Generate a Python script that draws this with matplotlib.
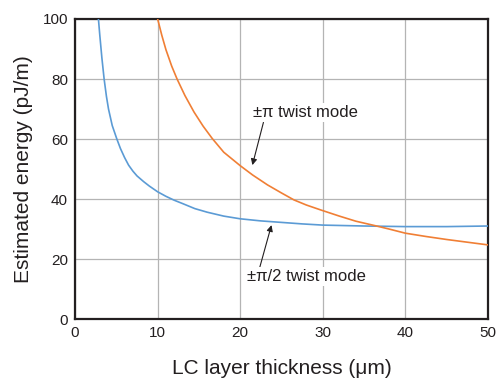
import matplotlib
matplotlib.use("Agg")
import matplotlib.pyplot as plt

# Data
pi2_thickness = [2.83, 3.0, 3.25, 3.52, 3.8, 4.05, 4.5, 5.06, 5.5, 6.0, 6.48, 7.0, 7.5, 8.3, 9.0,
                 10.0, 11.0, 12.0, 13.0, 14.5, 16.0, 18.0, 20.0, 22.5, 25.0, 27.5, 30.0, 35.0,
                 40.0, 45.0, 50.0]
pi2_energy = [100, 94.5, 87, 80, 74.2, 70, 64.5, 60, 56.8, 53.8, 51.3, 49.3, 47.7, 45.8, 44.3,
              42.4, 40.9, 39.6, 38.5, 36.8, 35.6, 34.3, 33.4, 32.7, 32.2, 31.7, 31.3, 31.0,
              30.8, 30.8, 31.0]

pi_thickness = [10.0, 10.5, 11.0, 11.7, 12.35, 13.3, 14.4, 15.5, 16.6, 18.0, 20.0, 21.5, 23.3,
                25.0, 26.5, 28.0, 29.8, 32.0, 34.0, 36.5, 38.0, 40.0, 42.5, 45.0, 47.5, 50.0]
pi_energy = [100, 94.6, 89.8, 84.3, 80, 74.5, 69, 64.3, 60.2, 55.6, 51.1, 48, 44.7,
             42, 39.7, 38, 36.3, 34.3, 32.6, 31, 30, 28.6, 27.5, 26.5, 25.6, 24.7]

xticks = [0, 10, 20, 30, 40, 50]
yticks = [0, 20, 40, 60, 80, 100]

plt.rcParams['font.family'] = ['Liberation Sans', 'DejaVu Sans']
dark = '#231f20'

fig = plt.figure(figsize=(4.97, 3.80), dpi=100)
ax = fig.add_axes([0.151, 0.1605, 0.831, 0.7895])

ax.plot(pi2_thickness, pi2_energy, color='#5b9bd5', lw=1.2, zorder=3)
ax.plot(pi_thickness, pi_energy, color='#f07f35', lw=1.2, zorder=3)

ax.set_xlim(0, 50)
ax.set_ylim(0, 100)
ax.set_xticks(xticks)
ax.set_yticks(yticks)
ax.tick_params(length=0, pad=5, labelsize=11, colors=dark)
ax.grid(True, color='#b4b4b4', lw=0.9)
ax.set_axisbelow(True)
for s in ax.spines.values():
    s.set_color(dark)
    s.set_linewidth(1.6)

ax.set_xlabel('LC layer thickness (μm)', fontsize=15, color=dark, labelpad=14)
ax.set_ylabel('Estimated energy (pJ/m)', fontsize=15, color=dark, labelpad=7)

box = dict(facecolor='white', edgecolor='none', pad=1.5)
ax.annotate('±π twist mode', xy=(21.47, 51.3), xytext=(21.6, 68.7),
            fontsize=12, color=dark, ha='left', va='center', bbox=box,
            arrowprops=dict(arrowstyle='-|>', color=dark, lw=0.8,
                            mutation_scale=9, shrinkA=0, shrinkB=0,
                            relpos=(0.1, 0.0)), zorder=4)
ax.annotate('±π/2 twist mode', xy=(23.78, 31.3), xytext=(20.86, 14.1),
            fontsize=12, color=dark, ha='left', va='center', bbox=box,
            arrowprops=dict(arrowstyle='-|>', color=dark, lw=0.8,
                            mutation_scale=9, shrinkA=0, shrinkB=0,
                            relpos=(0.1, 1.0)), zorder=4)

fig.savefig('out.png', dpi=100)
